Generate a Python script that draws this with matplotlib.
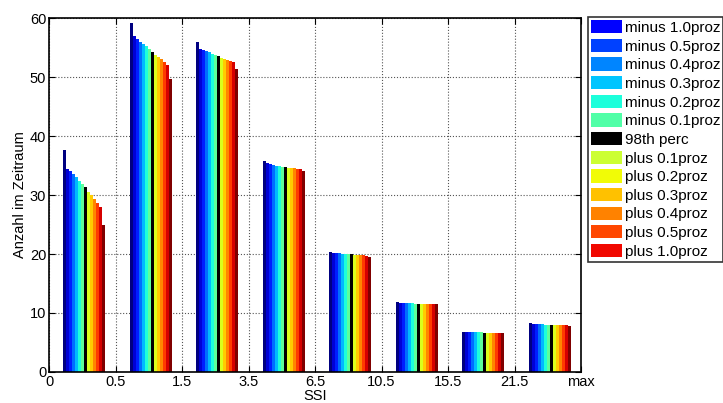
import numpy as np
import matplotlib.pyplot as plt
from matplotlib.patches import Patch

plt.rcParams['font.family'] = ['Liberation Sans', 'DejaVu Sans']

# SSI class edges (tick labels) and counts per class for each threshold variant
edge_labels = ['0', '0.5', '1.5', '3.5', '6.5', '10.5', '15.5', '21.5', 'max']

series_names = ['minus 1.0proz', 'minus 0.5proz', 'minus 0.4proz', 'minus 0.3proz',
                'minus 0.2proz', 'minus 0.1proz', '98th perc', 'plus 0.1proz',
                'plus 0.2proz', 'plus 0.3proz', 'plus 0.4proz', 'plus 0.5proz',
                'plus 1.0proz']

# one row per SSI class, 14 bars each
counts = np.array([
    [37.7, 34.4, 34.0, 33.5, 33.0, 32.4, 31.9, 31.3, 30.6, 30.0, 29.3, 28.7, 28.0, 24.9],
    [59.2, 56.9, 56.4, 56.0, 55.6, 55.2, 54.8, 54.2, 53.8, 53.4, 53.0, 52.5, 52.0, 49.6],
    [55.9, 54.8, 54.6, 54.4, 54.2, 54.0, 53.8, 53.6, 53.3, 53.1, 52.9, 52.7, 52.5, 51.4],
    [35.8, 35.5, 35.3, 35.1, 35.0, 34.9, 34.8, 34.7, 34.6, 34.6, 34.6, 34.5, 34.4, 34.1],
    [20.3, 20.2, 20.15, 20.1, 20.05, 20.0, 20.0, 19.95, 19.9, 19.85, 19.8, 19.75, 19.7, 19.5],
    [11.8, 11.75, 11.7, 11.7, 11.65, 11.65, 11.6, 11.6, 11.6, 11.55, 11.55, 11.55, 11.5, 11.5],
    [6.8, 6.75, 6.75, 6.7, 6.7, 6.7, 6.7, 6.65, 6.65, 6.65, 6.65, 6.6, 6.6, 6.6],
    [8.25, 8.1, 8.1, 8.05, 8.05, 8.0, 8.0, 8.0, 7.95, 7.95, 7.95, 7.9, 7.9, 7.85],
])

n_groups, n_bars = counts.shape
bar_colors = plt.cm.jet(np.linspace(0, 1, n_bars))
bar_colors[7] = (0, 0, 0, 1)

leg_colors = plt.cm.jet(np.linspace(0.125, 0.9, len(series_names)))
leg_colors[6] = (0, 0, 0, 1)
leg_colors[7] = (0.8, 1.0, 0.2, 1)

fig = plt.figure(figsize=(7.23, 4.03), dpi=100)
ax = fig.add_axes([0.0678, 0.077, 0.7358, 0.878])

group_w = 0.63
w = group_w / n_bars
centers = np.arange(n_groups) + 0.53
for j in range(n_bars):
    xs = centers - group_w / 2 + (j + 0.5) * w
    ax.bar(xs, counts[:, j], width=w, color=bar_colors[j], linewidth=0)

ax.set_xlim(0, n_groups)
ax.set_ylim(0, 60)
ax.set_xticks(np.arange(n_groups + 1))
ax.set_xticklabels(edge_labels)
ax.set_yticks(np.arange(0, 61, 10))
ax.tick_params(direction='in', labelsize=10.5, top=True, right=True, length=4, pad=2)
ax.grid(True, linestyle=':', color='#555555', linewidth=0.8)
ax.set_axisbelow(True)
for s in ax.spines.values():
    s.set_linewidth(1.2)
ax.set_xlabel('SSI', fontsize=10.5, labelpad=0)
ax.set_ylabel('Anzahl im Zeitraum', fontsize=10.5, labelpad=2)

handles = [Patch(facecolor=c, edgecolor='none') for c in leg_colors]
leg = fig.legend(handles, series_names, loc='upper left',
                 bbox_to_anchor=(588 / 723, 1 - 17 / 403), fontsize=11,
                 frameon=True, fancybox=False, handlelength=2.0, handleheight=0.95,
                 handletextpad=0.2, labelspacing=0.25, borderpad=0.2, borderaxespad=0)
leg.get_frame().set_edgecolor('black')
leg.get_frame().set_linewidth(1.2)

fig.savefig('out.png', dpi=100)
